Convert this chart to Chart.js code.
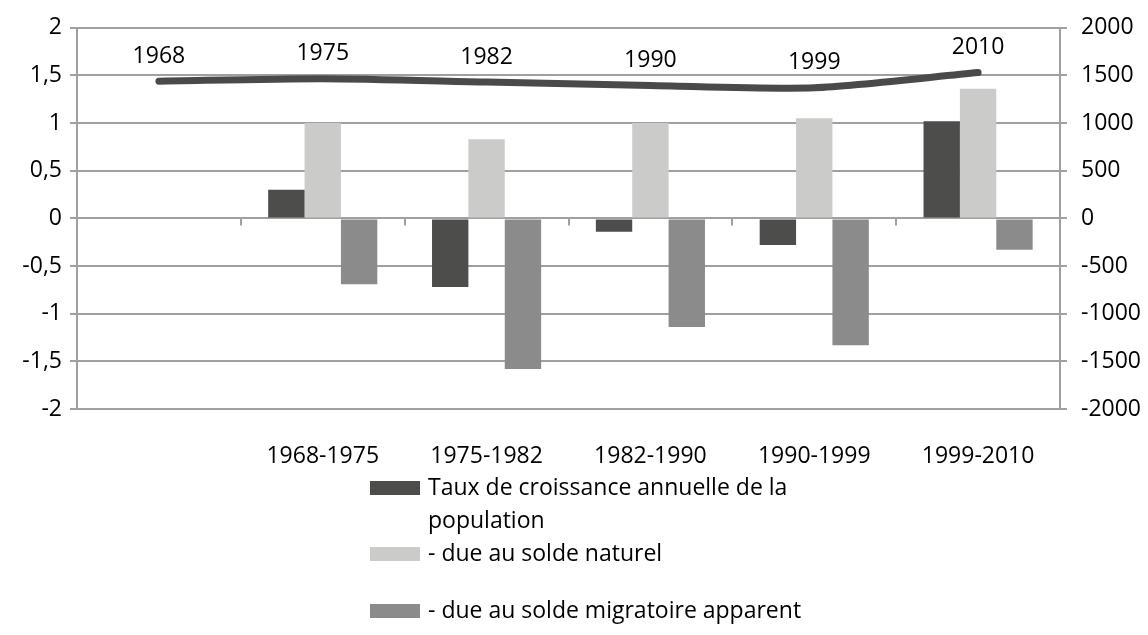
<!DOCTYPE html>
<html>
<head>
<meta charset="utf-8">
<script src="https://cdn.jsdelivr.net/npm/chart.js@4"></script>
<style>
  html, body { margin: 0; padding: 0; background: #fff; }
  #wrap { position: relative; width: 1148px; height: 635px; }
  #legend { position: absolute; left: 370px; top: 470px; font-family: "Open Sans", sans-serif; font-size: 23px; color: #000; }
  .item { display: flex; align-items: flex-start; line-height: 33px; }
  .box { width: 50px; height: 14px; margin-top: 11px; margin-right: 8px; flex: none; }
  .txt { width: 380px; }
</style>
</head>
<body>
<div id="wrap">
  <canvas id="chart" width="1148" height="635"></canvas>
  <div id="legend"></div>
</div>
<script>
const periods = ['', '1968-1975', '1975-1982', '1982-1990', '1990-1999', '1999-2010'];
const years = ['1968', '1975', '1982', '1990', '1999', '2010'];
const population = [1440, 1465, 1430, 1395, 1370, 1530];
const taux_total = [null, 0.30, -0.72, -0.14, -0.28, 1.02];
const taux_naturel = [null, 1.00, 0.83, 1.00, 1.05, 1.36];
const taux_migratoire = [null, -0.69, -1.58, -1.14, -1.33, -0.33];

const gridColor = '#a0a0a0';
const font = { family: 'Open Sans', size: 23 };

// petits traits sous la ligne du zero, entre les periodes
const zeroTicks = {
    id: 'zeroTicks',
    afterDatasetsDraw(chart) {
        const ctx = chart.ctx;
        const x = chart.scales.x;
        const y0 = chart.scales.y.getPixelForValue(0);
        const step = (x.right - x.left) / periods.length;
        ctx.save();
        ctx.strokeStyle = gridColor;
        ctx.lineWidth = 2;
        for (let i = 1; i < periods.length; i++) {
            const px = Math.round(x.left + step * i);
            ctx.beginPath();
            ctx.moveTo(px, y0);
            ctx.lineTo(px, y0 + 7);
            ctx.stroke();
        }
        ctx.restore();
    }
};

// annees au-dessus de la courbe
const yearLabels = {
    id: 'yearLabels',
    afterDraw(chart) {
        const ctx = chart.ctx;
        const meta = chart.getDatasetMeta(3);
        ctx.save();
        ctx.font = '23px "Open Sans"';
        ctx.fillStyle = '#000';
        ctx.textAlign = 'center';
        ctx.textBaseline = 'middle';
        meta.data.forEach((pt, i) => {
            ctx.fillText(years[i], pt.x, pt.y - 25);
        });
        ctx.restore();
    }
};

const chart = new Chart(document.getElementById('chart').getContext('2d'), {
    type: 'bar',
    data: {
        labels: periods,
        datasets: [{
            label: 'Taux de croissance annuelle de la population',
            data: taux_total,
            backgroundColor: '#4d4d4b',
            yAxisID: 'y',
            order: 2
        }, {
            label: '- due au solde naturel',
            data: taux_naturel,
            backgroundColor: '#cbcbca',
            yAxisID: 'y',
            order: 2
        }, {
            label: '- due au solde migratoire apparent',
            data: taux_migratoire,
            backgroundColor: '#8b8b8b',
            yAxisID: 'y',
            order: 2
        }, {
            type: 'line',
            label: 'Population',
            data: population,
            yAxisID: 'y1',
            borderColor: '#4a4a4a',
            borderWidth: 7,
            borderCapStyle: 'round',
            pointRadius: 0,
            tension: 0.25,
            order: 1
        }]
    },
    options: {
        responsive: false,
        animation: false,
        categoryPercentage: 0.666,
        barPercentage: 1.0,
        layout: { padding: { top: 24, left: 0, right: 0, bottom: 0 } },
        plugins: {
            legend: { display: false },
            tooltip: { enabled: false }
        },
        scales: {
            x: {
                grid: { display: false },
                border: { display: false },
                ticks: { font: font, color: '#000', padding: 26, maxRotation: 0 },
                afterFit(s) { s.height = 226; }
            },
            y: {
                position: 'left',
                min: -2,
                max: 2,
                grid: { color: gridColor, lineWidth: 2, tickLength: 7 },
                border: { color: gridColor, width: 2 },
                ticks: {
                    stepSize: 0.5,
                    font: font,
                    color: '#000',
                    padding: 8,
                    callback: v => String(v).replace('.', ',')
                },
                afterFit(s) { s.width = 77; }
            },
            y1: {
                position: 'right',
                min: -2000,
                max: 2000,
                grid: { drawOnChartArea: false, color: gridColor, lineWidth: 2, tickLength: 7 },
                border: { color: gridColor, width: 2 },
                ticks: {
                    stepSize: 500,
                    font: font,
                    color: '#000',
                    padding: 14,
                    callback: v => String(v)
                },
                afterFit(s) { s.width = 88; }
            }
        }
    },
    plugins: [zeroTicks, yearLabels]
});

// legende
const legend = document.getElementById('legend');
chart.data.datasets.slice(0, 3).forEach((ds, i) => {
    const item = document.createElement('div');
    item.className = 'item';
    if (i == 2) item.style.marginTop = '24px';
    const box = document.createElement('div');
    box.className = 'box';
    box.style.background = ds.backgroundColor;
    const txt = document.createElement('div');
    txt.className = 'txt';
    txt.textContent = ds.label;
    item.appendChild(box);
    item.appendChild(txt);
    legend.appendChild(item);
});
</script>
</body>
</html>
